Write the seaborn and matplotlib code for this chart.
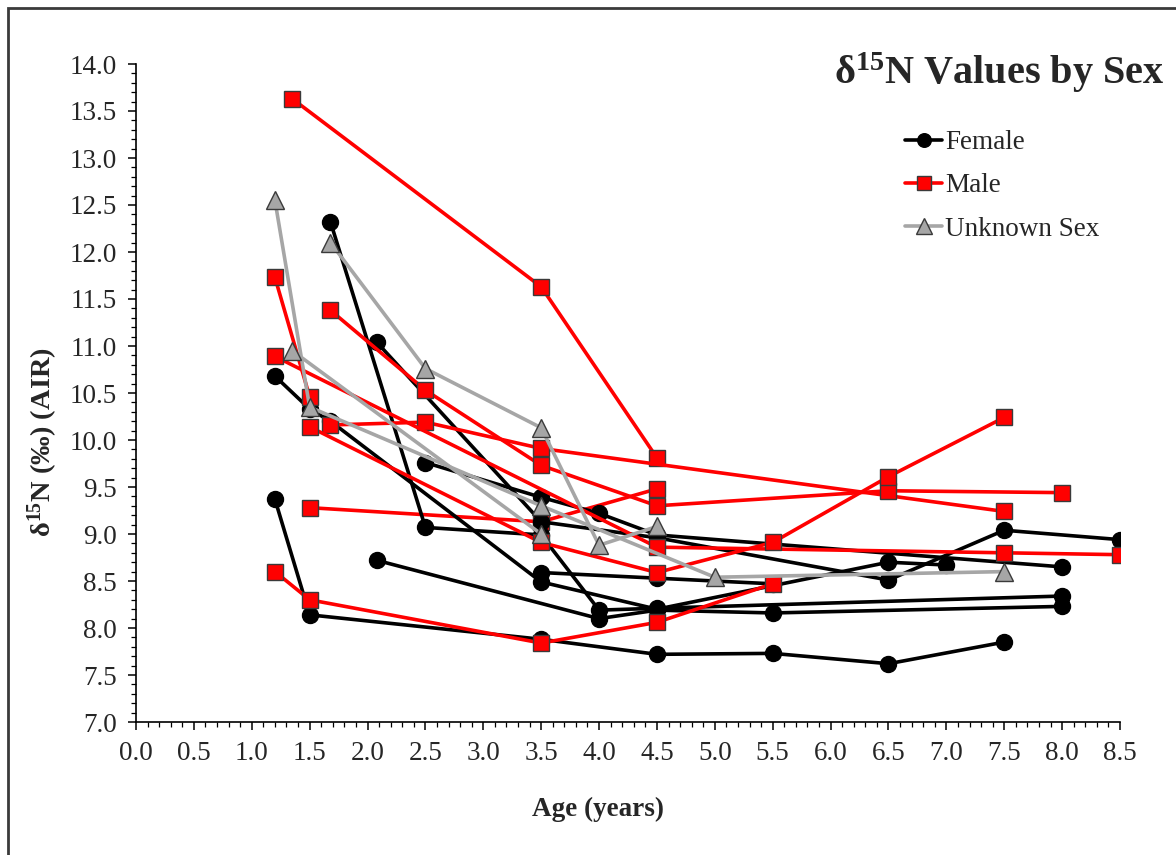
import matplotlib
matplotlib.use('Agg')
import matplotlib.pyplot as plt
import seaborn as sns
import pandas as pd
from matplotlib.lines import Line2D
from matplotlib.patches import Rectangle
from matplotlib.ticker import MultipleLocator, FormatStrFormatter

# ---------------- data (age in years, d15N in permil) ----------------
# Female individuals
F1_age = [1.2, 1.5, 3.5, 4.5, 5.5, 6.5, 7.5]
F1_val = [9.37, 8.14, 7.88, 7.72, 7.73, 7.62, 7.85]
F2_age = [1.2, 1.5, 1.68, 3.5, 4.5, 6.5, 7.0]
F2_val = [10.68, 10.33, 10.20, 8.49, 8.20, 8.70, 8.67]
F3_age = [2.5, 3.5, 4.0, 4.5, 8.0]
F3_val = [9.76, 9.39, 9.22, 8.99, 8.65]
F4_age = [2.08, 3.5, 4.5, 6.5, 7.5, 8.5]
F4_val = [11.04, 9.13, 8.96, 8.51, 9.04, 8.94]
F5_age = [1.68, 2.5, 3.5, 4.0, 4.5, 8.0]
F5_val = [12.32, 9.07, 8.99, 8.19, 8.21, 8.34]
F6_age = [2.08, 4.0, 4.5, 5.5, 8.0]
F6_val = [8.72, 8.10, 8.19, 8.16, 8.23]
F7_age = [3.5, 4.5, 5.5]
F7_val = [8.59, 8.53, 8.47]

# Male individuals
M1_age = [1.35, 3.5, 4.5]
M1_val = [13.63, 11.63, 9.81]
M2_age = [1.68, 2.5, 3.5, 7.5]
M2_val = [10.16, 10.19, 9.91, 9.24]
M3_age = [1.68, 2.5, 3.5, 4.5, 6.5, 8.0]
M3_val = [11.38, 10.53, 9.73, 9.30, 9.46, 9.44]
M4_age = [1.2, 1.5]
M4_val = [11.73, 10.46]
M5_age = [1.2, 4.5, 7.5, 8.5]
M5_val = [10.89, 8.86, 8.80, 8.78]
M6_age = [1.5, 3.5, 4.5, 5.5, 6.5, 7.5]
M6_val = [10.14, 8.91, 8.59, 8.91, 9.61, 10.24]
M7_age = [1.5, 3.5, 4.5]
M7_val = [9.28, 9.13, 9.48]
M8_age = [1.2, 1.5, 3.5, 4.5, 5.5]
M8_val = [8.60, 8.30, 7.84, 8.06, 8.47]

# Unknown-sex individuals
U1_age = [1.2, 1.5, 3.5, 5.0, 7.5]
U1_val = [12.55, 10.35, 9.30, 8.54, 8.60]
U2_age = [1.35, 3.5]
U2_val = [10.95, 9.00]
U3_age = [1.68, 2.5, 3.5, 4.0, 4.5]
U3_val = [12.10, 10.76, 10.13, 8.88, 9.08]

sex_labels = ["Female", "Male", "Unknown Sex"]
x_ticks = [0.0, 0.5, 1.0, 1.5, 2.0, 2.5, 3.0, 3.5, 4.0, 4.5, 5.0, 5.5, 6.0, 6.5, 7.0, 7.5, 8.0, 8.5]
y_ticks = [7.0, 7.5, 8.0, 8.5, 9.0, 9.5, 10.0, 10.5, 11.0, 11.5, 12.0, 12.5, 13.0, 13.5, 14.0]

# drawing order of individuals
individuals = [
    ("M7", "Male", M7_age, M7_val),
    ("F1", "Female", F1_age, F1_val),
    ("F2", "Female", F2_age, F2_val),
    ("F3", "Female", F3_age, F3_val),
    ("F4", "Female", F4_age, F4_val),
    ("F5", "Female", F5_age, F5_val),
    ("F6", "Female", F6_age, F6_val),
    ("F7", "Female", F7_age, F7_val),
    ("M1", "Male", M1_age, M1_val),
    ("M2", "Male", M2_age, M2_val),
    ("M3", "Male", M3_age, M3_val),
    ("M4", "Male", M4_age, M4_val),
    ("M5", "Male", M5_age, M5_val),
    ("M6", "Male", M6_age, M6_val),
    ("M8", "Male", M8_age, M8_val),
    ("U1", "Unknown Sex", U1_age, U1_val),
    ("U2", "Unknown Sex", U2_age, U2_val),
    ("U3", "Unknown Sex", U3_age, U3_val),
]

rows = []
for ind, sex, ages, vals in individuals:
    for a, v in zip(ages, vals):
        rows.append({"id": ind, "sex": sex, "age": a, "d15n": v})
df = pd.DataFrame(rows)

styles = {
    "Female": dict(color="#000000", marker="o", markersize=11.5,
                   markerfacecolor="#000000", markeredgecolor="#000000", markeredgewidth=1.0),
    "Male": dict(color="#FF0000", marker="s", markersize=11.5,
                 markerfacecolor="#FF0000", markeredgecolor="#3a3a3a", markeredgewidth=1.0),
    "Unknown Sex": dict(color="#A6A6A6", marker="^", markersize=13,
                        markerfacecolor="#A6A6A6", markeredgecolor="#3a3a3a", markeredgewidth=1.0),
}

# ---------------- styling ----------------
sns.set_style("ticks")
plt.rcParams['font.family'] = ['Liberation Serif', 'DejaVu Serif']
plt.rcParams['mathtext.fontset'] = 'custom'
plt.rcParams['mathtext.rm'] = 'Liberation Serif'
plt.rcParams['mathtext.bf'] = 'Liberation Serif:bold'
plt.rcParams['mathtext.it'] = 'Liberation Serif:italic'

fig = plt.figure(figsize=(11.76, 8.55), dpi=100)
ax = fig.add_axes([136 / 1176, 133 / 855, 984 / 1176, 658 / 855])

for ind, sex, ages, vals in individuals:
    sub = df[df["id"] == ind]
    st = styles[sex]
    sns.lineplot(data=sub, x="age", y="d15n", ax=ax, estimator=None, errorbar=None,
                 linewidth=2.6, legend=False, **st)

ax.set_xlim(0, 8.5)
ax.set_ylim(7.0, 14.0)
ax.set_xticks(x_ticks)
ax.set_yticks(y_ticks)
ax.xaxis.set_major_formatter(FormatStrFormatter('%.1f'))
ax.yaxis.set_major_formatter(FormatStrFormatter('%.1f'))
ax.xaxis.set_minor_locator(MultipleLocator(0.1))
ax.yaxis.set_minor_locator(MultipleLocator(0.1))
ax.tick_params(axis='both', which='major', direction='out', length=6, width=1.1,
               labelsize=19.5, pad=8, color='black')
ax.tick_params(axis='both', which='minor', direction='out', length=3.5, width=0.9, color='black')
for s in ['top', 'right']:
    ax.spines[s].set_visible(False)
for s in ['left', 'bottom']:
    ax.spines[s].set_color('black')
    ax.spines[s].set_linewidth(1.2)
ax.grid(False)

ax.set_xlabel("Age (years)", fontsize=19.5, fontweight='bold')
ax.set_ylabel(r"δ$^{\mathbf{15}}$N (‰) (AIR)", fontsize=20.5, fontweight='bold')
ax.xaxis.set_label_coords((598 - 136) / 984, (722 - 797) / 658)
ax.yaxis.set_label_coords((60 - 136) / 984, (722 - 442) / 658)

# title inside plot area
fig.text(1165 / 1176, 1 - 84 / 855, r"δ$^{\mathbf{15}}$N Values by Sex", ha='right', va='baseline',
         fontsize=29, fontweight='bold')

# legend
handles = []
for lab in sex_labels:
    st = styles[lab]
    handles.append(Line2D([0], [0], color=st["color"], lw=2.6, marker=st["marker"],
                          markersize=st["markersize"] * 0.85, markerfacecolor=st["markerfacecolor"],
                          markeredgecolor=st["markeredgecolor"], markeredgewidth=1.0))
ax.legend(handles, sex_labels, loc='upper left', bbox_to_anchor=(905 / 1176, 1 - 130 / 855),
          bbox_transform=fig.transFigure, frameon=False, fontsize=19.5, handlelength=1.37,
          handletextpad=0.1, labelspacing=0.68, borderpad=0, borderaxespad=0)

# outer chart border (partially visible)
fig.patches.append(Rectangle((8 / 1176, -0.05), 1.2, 1 - 8 / 855 + 0.05, transform=fig.transFigure,
                             fill=False, edgecolor='#3a3a3a', linewidth=2.0))

fig.savefig("out.png", dpi=100)
